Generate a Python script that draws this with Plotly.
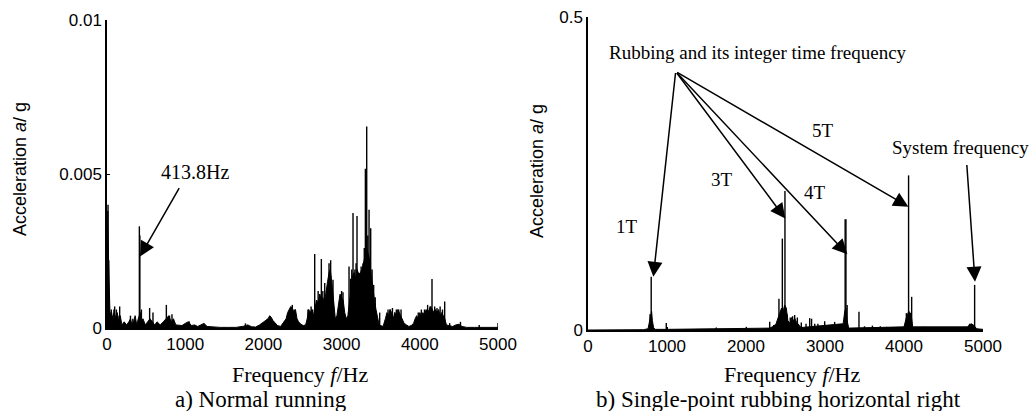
import plotly.graph_objects as go

# ---------------- Data ----------------
# Panel a) Normal running : background spectrum envelope
a_bg_freq = [0, 10, 20, 30, 40, 60, 75, 90, 110, 130, 150, 170, 190, 220, 250, 280, 300, 320, 340, 360,
             380, 400, 425, 440, 460, 490, 520, 550, 580, 610, 640, 680, 720, 760, 790, 820, 850, 880, 920, 960,
             1000, 1040, 1080, 1120, 1160, 1200, 1240, 1280, 1350, 1450, 1550, 1650, 1750, 1800, 1850, 1900, 1950, 2000, 2030, 2060,
             2080, 2100, 2120, 2150, 2180, 2220, 2250, 2270, 2290, 2310, 2330, 2350, 2370, 2390, 2410, 2430, 2450, 2480, 2510, 2540,
             2560, 2580, 2600, 2620, 2640, 2660, 2680, 2700, 2720, 2740, 2760, 2780, 2800, 2820, 2840, 2855, 2870, 2885, 2900, 2920,
             2940, 2960, 2980, 3000, 3020, 3040, 3060, 3080, 3100, 3120, 3140, 3160, 3180, 3200, 3220, 3240, 3260, 3280, 3300, 3320,
             3340, 3360, 3380, 3400, 3420, 3440, 3460, 3480, 3500, 3530, 3560, 3580, 3600, 3620, 3640, 3660, 3680, 3700, 3720, 3740,
             3760, 3780, 3800, 3830, 3860, 3890, 3920, 3940, 3960, 3980, 4000, 4020, 4040, 4060, 4080, 4100, 4120, 4140, 4160, 4180,
             4200, 4220, 4240, 4260, 4280, 4300, 4320, 4340, 4380, 4420, 4460, 4500, 4540, 4600, 4700, 4800, 4900, 5000]
a_bg_amp = [0.0, 0.0038, 0.0022, 0.0004, 0.0003, 0.0005, 0.0002, 0.0006, 0.0003, 0.0005, 0.0002, 0.0004, 0.0001, 0.0002, 0.0001, 0.0002, 0.0003, 0.0001, 0.0002, 0.0004,
            0.0001, 0.0003, 0.0005, 0.0002, 0.0003, 0.0001, 0.0002, 0.0003, 0.0002, 0.0001, 0.0002, 0.0001, 0.0002, 0.0003, 0.0004, 0.0002, 0.0003, 0.0001, 0.0001, 0.00008,
            0.00015, 0.0002, 0.00008, 0.0001, 0.00005, 0.0001, 0.00015, 0.00005, 0.00003, 0.00002, 0.00002, 0.00002, 0.00006, 0.0001, 0.00004, 0.00003, 0.0001, 0.00018, 0.00025, 0.0003,
            0.0004, 0.00035, 0.00025, 0.00015, 0.00008, 0.00005, 0.00015, 0.0002, 0.0003, 0.0005, 0.0006, 0.0007, 0.00065, 0.0005, 0.0006, 0.0003, 0.0002, 0.00012, 0.00008, 0.0001,
            0.0003, 0.0006, 0.0005, 0.0006, 0.0004, 0.0007, 0.0009, 0.0008, 0.0011, 0.0009, 0.001, 0.0008, 0.0012, 0.0015, 0.0018, 0.0019, 0.0016, 0.0012, 0.0007, 0.0003,
            0.0004, 0.0008, 0.0011, 0.001, 0.0009, 0.0005, 0.0003, 0.0004, 0.0009, 0.0014, 0.0017, 0.0018, 0.0016, 0.0019, 0.0017, 0.0018, 0.0019, 0.0021, 0.0024, 0.0026,
            0.0024, 0.0022, 0.0017, 0.0012, 0.0009, 0.0006, 0.0003, 0.0001, 0.00008, 0.00005, 0.0003, 0.0005, 0.0004, 0.0006, 0.0005, 0.0003, 0.0005, 0.0004, 0.0006, 0.0005,
            0.0004, 0.0003, 0.00015, 0.0001, 0.00005, 0.00008, 0.00015, 0.0003, 0.0004, 0.0003, 0.0005, 0.0004, 0.0005, 0.0004, 0.0006, 0.0005, 0.0006, 0.0007, 0.0006, 0.0005,
            0.0006, 0.0005, 0.0006, 0.0004, 0.0005, 0.0004, 0.0003, 0.0001, 0.00008, 0.00005, 0.0001, 0.00012, 0.00005, 0.00002, 0.00002, 0.00002, 0.00002, 0.00002]

# Panel a) discrete spectral peaks
a_pk_freq = [13, 22, 48, 55, 70, 98, 120, 140, 162, 300, 330, 413.8, 420, 440, 545, 588, 759, 800, 831, 1050,
             1770, 2050, 2080, 2340, 2370, 2395, 2570, 2610, 2630, 2656, 2680, 2700, 2720, 2741, 2760, 2784, 2810, 2839, 2860, 2890,
             2975, 3000, 3018, 3095, 3115, 3130, 3146, 3170, 3185, 3197, 3215, 3231, 3250, 3274, 3290, 3304, 3321, 3335, 3351, 3372,
             3390, 3410, 3430, 3487, 3594, 3620, 3650, 3680, 3700, 3730, 3760, 3980, 4020, 4060, 4100, 4130, 4156, 4190, 4220, 4260,
             4290, 4318, 4382, 4520, 4760, 5000]
a_pk_amp = [0.0040, 0.0022, 0.0005, 0.0006, 0.0004, 0.0007, 0.0006, 0.0004, 0.0007, 0.0004, 0.0003, 0.0033, 0.0030, 0.0006, 0.00065, 0.0005, 0.00075, 0.0004, 0.00045, 0.00022,
            0.00015, 0.0003, 0.00035, 0.0006, 0.00075, 0.0006, 0.0006, 0.0007, 0.0006, 0.0024, 0.0009, 0.0012, 0.0011, 0.00224, 0.0012, 0.00146, 0.0013, 0.0021, 0.0022, 0.00157,
            0.0009, 0.0012, 0.00116, 0.0020, 0.0016, 0.0019, 0.00373, 0.0019, 0.0021, 0.00364, 0.0018, 0.00178, 0.0020, 0.0021, 0.0026, 0.00517, 0.00654, 0.0030, 0.00384, 0.00324,
            0.0019, 0.0014, 0.0010, 0.0005, 0.0006, 0.0006, 0.00065, 0.0005, 0.0006, 0.0006, 0.0006, 0.0005, 0.0006, 0.0006, 0.00075, 0.0007, 0.00159, 0.0007, 0.00065, 0.0007,
            0.0006, 0.00086, 0.00016, 0.0002, 0.0001, 0.00016]

# Panel b) Single-point rubbing : background envelope
b_bg_freq = [0, 700, 760, 775, 785, 795, 805, 815, 830, 850, 990, 2300, 2350, 2380, 2410, 2430, 2450, 2470, 2490, 2510,
             2530, 2560, 2580, 2600, 2620, 2640, 2660, 2680, 2700, 3230, 3250, 3265, 3280, 3300, 4000, 4030, 4060, 4090, 4110, 4800,
             4850, 4880, 4920, 5000]
b_bg_amp = [0.0, 0.0005, 0.002, 0.012, 0.02, 0.025, 0.03, 0.015, 0.004, 0.001, 0.001, 0.003, 0.006, 0.01, 0.02, 0.03, 0.035, 0.03, 0.04, 0.035,
            0.015, 0.01, 0.02, 0.015, 0.018, 0.012, 0.01, 0.006, 0.004, 0.01, 0.03, 0.035, 0.015, 0.003, 0.005, 0.02, 0.03, 0.025, 0.005, 0.005,
            0.01, 0.008, 0.002, 0.001]

# Panel b) discrete spectral peaks
b_pk_freq = [785, 800, 991, 1624, 2004, 2300, 2350, 2417, 2440, 2460, 2493, 2520, 2560, 2590, 2616, 2650, 2700, 2760, 2806, 2830,
             2870, 2910, 2996, 3050, 3122, 3180, 3255, 3265, 3280, 3430, 3500, 3600, 3700, 3780, 3950, 4030, 4058, 4097, 4250, 4450,
             4830, 4894]
b_pk_amp = [0.025, 0.085, 0.011, 0.004, 0.005, 0.013, 0.008, 0.05, 0.03, 0.146, 0.222, 0.025, 0.02, 0.022, 0.024, 0.02, 0.012, 0.01, 0.019, 0.018,
            0.01, 0.01, 0.014, 0.008, 0.013, 0.009, 0.177, 0.177, 0.04, 0.029, 0.006, 0.007, 0.006, 0.005, 0.004, 0.027, 0.247, 0.053, 0.005, 0.004,
            0.01, 0.072]

x_ticks = [0, 1000, 2000, 3000, 4000, 5000]
a_yticks = [0, 0.005, 0.01]
a_ytext = ["0", "0.005", "0.01"]
b_yticks = [0, 0.5]
b_ytext = ["0", "0.5"]


def stems(freq, amp):
    xs, ys = [], []
    for f, a in zip(freq, amp):
        xs += [f, f, None]
        ys += [0, a, None]
    return xs, ys


fig = go.Figure()

# panel a
fig.add_trace(go.Scatter(x=a_bg_freq, y=a_bg_amp, mode="lines", fill="tozeroy",
                         line=dict(color="black", width=1), fillcolor="black",
                         xaxis="x", yaxis="y", showlegend=False, hoverinfo="skip"))
sx, sy = stems(a_pk_freq, a_pk_amp)
fig.add_trace(go.Scatter(x=sx, y=sy, mode="lines", line=dict(color="black", width=1.4),
                         xaxis="x", yaxis="y", showlegend=False, hoverinfo="skip"))
# panel b
fig.add_trace(go.Scatter(x=b_bg_freq, y=b_bg_amp, mode="lines", fill="tozeroy",
                         line=dict(color="black", width=1), fillcolor="black",
                         xaxis="x2", yaxis="y2", showlegend=False, hoverinfo="skip"))
sx, sy = stems(b_pk_freq, b_pk_amp)
fig.add_trace(go.Scatter(x=sx, y=sy, mode="lines", line=dict(color="black", width=1.4),
                         xaxis="x2", yaxis="y2", showlegend=False, hoverinfo="skip"))

tickfont = dict(family="Liberation Sans", size=17, color="black")
axis_common = dict(showline=True, linecolor="black", linewidth=1.5, showgrid=False, zeroline=False, automargin=False,
                   ticks="inside", ticklen=3, tickcolor="black", tickfont=tickfont)

fig.update_layout(
    width=1031, height=411,
    margin=dict(l=0, r=0, t=0, b=0, autoexpand=False),
    paper_bgcolor="white", plot_bgcolor="white",
    xaxis=dict(domain=[107 / 1031, 498 / 1031], range=[0, 5000], tickvals=x_ticks, anchor="y", **axis_common),
    yaxis=dict(domain=[(411 - 328) / 411, (411 - 20) / 411], range=[0, 0.01], tickvals=a_yticks, ticktext=a_ytext,
               anchor="x", **axis_common),
    xaxis2=dict(domain=[588 / 1031, 983 / 1031], range=[0, 5000], tickvals=x_ticks, anchor="y2", **axis_common),
    yaxis2=dict(domain=[(411 - 330) / 411, (411 - 17) / 411], range=[0, 0.5], tickvals=b_yticks, ticktext=b_ytext,
                anchor="x2", **axis_common),
)

serif = "Liberation Serif"
centered = dict(xanchor="center", yanchor="middle", showarrow=False, xref="paper", yref="paper")
ann = []
# axis titles
for xc in (300 / 1031, 792 / 1031):
    ann.append(dict(text="Frequency <i>f</i>/Hz", x=xc, y=(411 - 374) / 411,
                    font=dict(family=serif, size=22, color="black"), **centered))
for xc, yc in ((20 / 1031, (411 - 169) / 411), (537 / 1031, (411 - 171) / 411)):
    ann.append(dict(text="Acceleration <i>a</i>/ g", x=xc, y=yc, textangle=-90,
                    font=dict(family="Liberation Sans", size=18, color="black"), **centered))
# captions
ann.append(dict(text="a) Normal running", x=261 / 1031, y=(411 - 399) / 411,
                font=dict(family=serif, size=23, color="black"), **centered))
ann.append(dict(text="b) Single-point rubbing horizontal right", x=778 / 1031, y=(411 - 399) / 411,
                font=dict(family=serif, size=23, color="black"), **centered))

arrow_style = dict(showarrow=True, arrowhead=2, arrowsize=2, arrowwidth=1.5, arrowcolor="black", text="", standoff=0)
# panel a arrow and label
ann.append(dict(x=422, y=0.00232, ax=934, ay=0.00459, xref="x", yref="y", axref="x", ayref="y", **arrow_style))
ann.append(dict(text="413.8Hz", x=1125, y=0.00507, xref="x", yref="y", showarrow=False,
                font=dict(family=serif, size=20, color="black")))
# panel b arrows
apex = (1110, 0.413)
for tx, ty in ((827, 0.085), (2497, 0.178), (3283, 0.121), (4055, 0.197)):
    ann.append(dict(x=tx, y=ty, ax=apex[0], ay=apex[1], xref="x2", yref="y2", axref="x2", ayref="y2", **arrow_style))
ann.append(dict(x=4899, y=0.077, ax=4794, ay=0.266, xref="x2", yref="y2", axref="x2", ayref="y2", **arrow_style))
# panel b labels
for t, x, y, s in (("Rubbing and its integer time frequency", 2152, 0.4425, 19), ("1T", 489, 0.165, 19),
                   ("3T", 1693, 0.24, 19), ("4T", 2874, 0.22, 19), ("5T", 2979, 0.318, 19),
                   ("System frequency", 4709, 0.291, 19)):
    ann.append(dict(text=t, x=x, y=y, xref="x2", yref="y2", showarrow=False,
                    font=dict(family=serif, size=s, color="black")))

fig.update_layout(annotations=ann)
fig.write_html("out.html")
